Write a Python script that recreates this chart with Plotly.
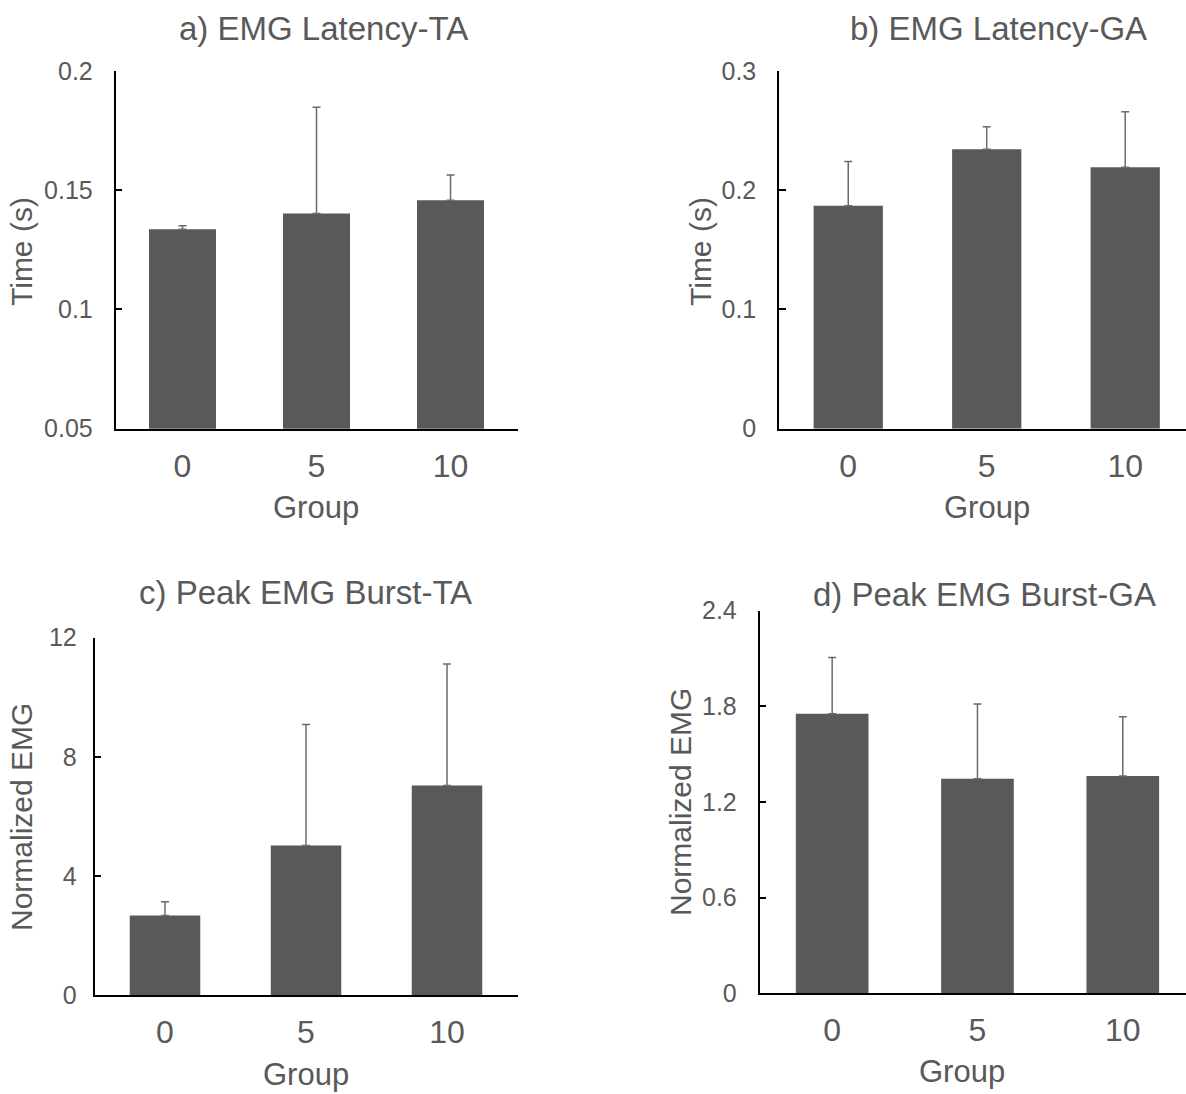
import plotly.graph_objects as go

W, H = 1186, 1094

groups = ["0", "5", "10"]

# a) EMG Latency-TA
lat_ta = [0.1336, 0.1402, 0.1458]
lat_ta_err = [0.0015, 0.0446, 0.0106]
# b) EMG Latency-GA
lat_ga = [0.187, 0.2343, 0.2192]
lat_ga_err = [0.037, 0.019, 0.0467]
# c) Peak EMG Burst-TA
peak_ta = [2.68, 5.03, 7.04]
peak_ta_err = [0.46, 4.06, 4.08]
# d) Peak EMG Burst-GA
peak_ga = [1.753, 1.346, 1.363]
peak_ga_err = [0.354, 0.468, 0.372]

y_a_ticks = [0.05, 0.1, 0.15, 0.2]
y_a_text = ["0.05", "0.1", "0.15", "0.2"]
y_b_ticks = [0, 0.1, 0.2, 0.3]
y_b_text = ["0", "0.1", "0.2", "0.3"]
y_c_ticks = [0, 4, 8, 12]
y_c_text = ["0", "4", "8", "12"]
y_d_ticks = [0, 0.6, 1.2, 1.8, 2.4]
y_d_text = ["0", "0.6", "1.2", "1.8", "2.4"]

titles = ["a) EMG Latency-TA", "b) EMG Latency-GA", "c) Peak EMG Burst-TA", "d) Peak EMG Burst-GA"]
ytitles = ["Time (s)", "Time (s)", "Normalized EMG", "Normalized EMG"]

BAR = "#595959"
TXT = "#595959"
FONT = "Liberation Sans, Arial, sans-serif"

def px_x(a, b):
    return [a / W, min(b / W, 1.0)]

def px_y(top, bottom):
    return [1 - bottom / H, 1 - top / H]

panels = [
    dict(vals=lat_ta, err=lat_ta_err, xd=px_x(115.5, 517.5), yd=px_y(71, 428.7), yr=[0.05, 0.2],
         tv=y_a_ticks, tt=y_a_text, xr=[-0.5, 2.5], sto=16),
    dict(vals=lat_ga, err=lat_ga_err, xd=px_x(779, 1186), yd=px_y(71, 428.7), yr=[0, 0.3],
         tv=y_b_ticks, tt=y_b_text, xr=[-0.5, 2.439], sto=16),
    dict(vals=peak_ta, err=peak_ta_err, xd=px_x(94.5, 517.5), yd=px_y(637.7, 995.3), yr=[0, 12],
         tv=y_c_ticks, tt=y_c_text, xr=[-0.5, 2.5], sto=11),
    dict(vals=peak_ga, err=peak_ga_err, xd=px_x(759.5, 1186), yd=px_y(610.7, 993.3), yr=[0, 2.4],
         tv=y_d_ticks, tt=y_d_text, xr=[-0.5, 2.435], sto=16),
]

fig = go.Figure()
layout = dict(
    width=W, height=H, margin=dict(l=0, r=0, t=0, b=0, pad=0, autoexpand=False),
    paper_bgcolor="white", plot_bgcolor="white", showlegend=False,
    font=dict(family=FONT, color=TXT),
)

for i, p in enumerate(panels):
    n = "" if i == 0 else str(i + 1)
    fig.add_trace(go.Bar(
        x=groups, y=p["vals"], width=0.5,
        marker=dict(color=BAR, line=dict(width=0)),
        error_y=dict(type="data", array=p["err"], symmetric=False, arrayminus=[0, 0, 0],
                     color="#6b6b6b", thickness=1.5, width=4),
        xaxis="x" + n, yaxis="y" + n, cliponaxis=False,
    ))
    layout["xaxis" + n] = dict(
        domain=p["xd"], anchor="y" + n, type="category", range=p["xr"], automargin=False,
        showline=True, linecolor="black", linewidth=1.5, showgrid=False, zeroline=False,
        ticks="", tickfont=dict(size=32, color=TXT), ticklabelstandoff=8, fixedrange=True,
    )
    layout["yaxis" + n] = dict(
        domain=p["yd"], anchor="x" + n, range=p["yr"], automargin=False,
        tickvals=p["tv"], ticktext=p["tt"],
        showline=True, linecolor="black", linewidth=1.5, showgrid=False, zeroline=False,
        ticks="inside", ticklen=7, tickwidth=1.5, tickcolor="black",
        tickfont=dict(size=25, color=TXT), ticklabelstandoff=p["sto"],
    )

fig.update_layout(**layout)

def ann(text, x, y, size, angle=0):
    fig.add_annotation(text=text, x=x / W, y=1 - y / H, xref="paper", yref="paper",
                       showarrow=False, textangle=angle, xanchor="center", yanchor="middle",
                       borderpad=0, font=dict(size=size, color=TXT, family=FONT))

# panel titles
ann(titles[0], 323, 28, 33)
ann(titles[1], 998, 28, 33)
ann(titles[2], 305.5, 592, 33)
ann(titles[3], 984, 594, 33)
# y axis titles
ann(ytitles[0], 21, 252, 30, -90)
ann(ytitles[1], 700, 252, 30, -90)
ann(ytitles[2], 21, 817, 30, -90)
ann(ytitles[3], 680, 802, 30, -90)
# x axis titles
ann("Group", 316, 508, 31)
ann("Group", 987, 508, 31)
ann("Group", 306, 1074, 31)
ann("Group", 962, 1071, 31)

fig.write_html("out.html", config={"displayModeBar": False},
               post_script="document.body.style.margin='0';")
